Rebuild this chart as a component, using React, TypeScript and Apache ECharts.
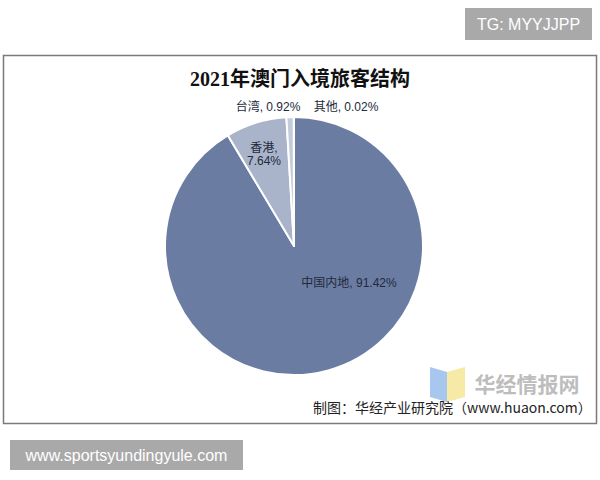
import React, { useEffect, useRef } from "react";
import * as echarts from "echarts";

const categories = ["中国内地", "香港", "台湾", "其他"];
const shares = [91.42, 7.64, 0.92, 0.02];
const sliceColors = ["#6b7ca3", "#a9b4cb", "#c4cbda", "#dfe3ea"];
const titleText = "2021年澳门入境旅客结构";
const sourceText = "制图：华经产业研究院（www.huaon.com）";

// label anchor positions (centre of text), relative px
const labelSpots: [number, number][] = [
  [349, 283],
  [264, 154],
  [268, 107],
  [346, 107],
];

export default function App() {
  const ref = useRef<HTMLDivElement>(null);
  useEffect(() => {
    if (!ref.current) return;
    const chart = echarts.init(ref.current, null, { renderer: "svg" });
    chart.setOption({
      animation: false,
      backgroundColor: "#ffffff",
      title: {
        text: titleText,
        left: "center",
        top: 64,
        textStyle: {
          fontFamily: "Liberation Serif, 'Noto Sans CJK SC', serif",
          fontWeight: "bold",
          fontSize: 20,
          color: "#111",
        },
      },
      graphic: [
        {
          type: "rect",
          shape: { x: 3.5, y: 55.5, width: 593, height: 368 },
          style: { fill: "none", stroke: "#7a7a7a", lineWidth: 1.5 },
        },
        {
          type: "rect",
          shape: { x: 465, y: 8, width: 127, height: 32 },
          style: { fill: "#a9a9a9" },
        },
        {
          type: "text",
          x: 528.5,
          y: 24,
          style: {
            text: "TG: MYYJJPP",
            fill: "#ffffff",
            fontSize: 16,
            fontFamily: "'Liberation Sans', Arial, sans-serif",
            align: "center",
            verticalAlign: "middle",
          },
        },
        {
          type: "rect",
          shape: { x: 10, y: 440, width: 233, height: 30 },
          style: { fill: "#a9a9a9" },
        },
        {
          type: "text",
          x: 126.5,
          y: 455,
          style: {
            text: "www.sportsyundingyule.com",
            fill: "#ffffff",
            fontSize: 16,
            fontFamily: "'Liberation Sans', Arial, sans-serif",
            align: "center",
            verticalAlign: "middle",
          },
        },
        {
          type: "polygon",
          shape: { points: [[430, 367], [447, 372], [447, 402], [430, 397]] },
          style: { fill: "#a8c7ee" },
        },
        {
          type: "polygon",
          shape: { points: [[447, 372], [465, 367], [465, 397], [447, 402]] },
          style: { fill: "#f6eaa6" },
        },
        {
          type: "text",
          x: 527,
          y: 383,
          style: {
            text: "华经情报网",
            fill: "#bdbdbd",
            fontSize: 21,
            fontWeight: "bold",
            fontFamily: "'Noto Sans CJK SC', sans-serif",
            align: "center",
            verticalAlign: "middle",
          },
        },
        {
          type: "text",
          x: 313,
          y: 407,
          style: {
            text: sourceText,
            fill: "#222",
            fontSize: 14,
            fontFamily: "'Noto Sans CJK SC', 'Liberation Sans', sans-serif",
            align: "left",
            verticalAlign: "middle",
          },
        },
      ],
      series: [
        {
          type: "pie",
          center: [294, 246],
          radius: [0, 129],
          startAngle: 90,
          clockwise: true,
          avoidLabelOverlap: false,
          itemStyle: { borderColor: "#ffffff", borderWidth: 2 },
          label: {
            show: true,
            position: "inside",
            fontSize: 12,
            color: "#222a3a",
            fontFamily: "'Liberation Sans', 'Noto Sans CJK SC', sans-serif",
            lineHeight: 13,
            formatter: (p: any) =>
              p.dataIndex === 1
                ? `${p.name},\n${p.value.toFixed(2)}%`
                : `${p.name}, ${p.value.toFixed(2)}%`,
          },
          labelLine: { show: false },
          labelLayout: (params: any) => {
            const s = labelSpots[params.dataIndex];
            return { x: s[0], y: s[1], align: "center", verticalAlign: "middle" };
          },
          emphasis: { disabled: true },
          data: categories.map((name, i) => ({
            name,
            value: shares[i],
            itemStyle: { color: sliceColors[i] },
          })),
        },
      ],
    });
    return () => chart.dispose();
  }, []);
  return (
    <div
      ref={ref}
      style={{ position: "fixed", left: 0, top: 0, width: 600, height: 480 }}
    />
  );
}
